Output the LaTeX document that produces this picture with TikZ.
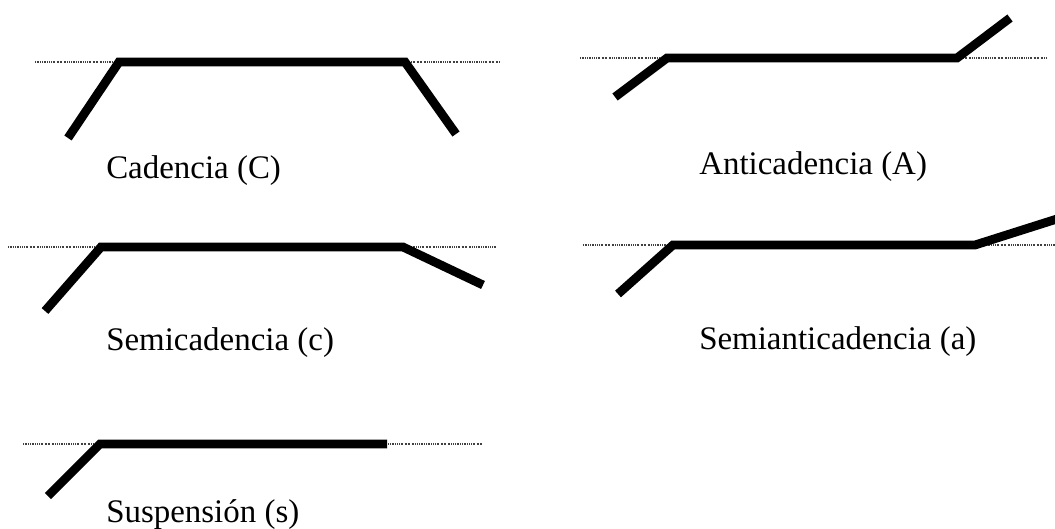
\documentclass[tikz,border=0pt]{standalone}
\usepackage{fontspec}
\setmainfont{Liberation Serif}
\begin{document}
\begin{tikzpicture}[x=0.75pt,y=-0.75pt,
  refline/.style={line width=0.8pt,black!75,dash pattern=on 0.7pt off 0.5pt on 0.7pt off 0.5pt on 0.7pt off 0.5pt on 0.7pt off 1.1pt},
  contour/.style={line width=6.6pt,line join=miter,line cap=butt,black},
  label/.style={anchor=base west,inner sep=0pt,font=\fontsize{24.7pt}{30pt}\selectfont}]
\useasboundingbox (0,0) rectangle (1055,528);
% Cadencia
\draw[refline] (35,62) -- (500,62);
\draw[contour] (68,138) -- (119,62) -- (405,62) -- (456,134);
\node[label] (lC) at (106,178) {Cadencia (C)};
% Anticadencia
\draw[refline] (580,58) -- (1047,58);
\draw[contour] (615,97) -- (667,58) -- (957,58) -- (1010,18);
\node[label] (lA) at (699,174) {Anticadencia (A)};
% Semicadencia
\draw[refline] (8,247) -- (497,247);
\draw[contour] (45,311) -- (101,247) -- (403,247) -- (483,285);
\node[label] (lc) at (106,350) {Semicadencia (c)};
% Semianticadencia
\draw[refline] (583,245) -- (1055,245);
\draw[contour] (618,294) -- (673,245) -- (975,245) -- (1060,218);
\node[label] (la) at (699,349) {Semianticadencia (a)};
% Suspension
\draw[refline] (23,444) -- (482,444);
\draw[contour] (48,496) -- (100,444) -- (387,444);
\node[label] (ls) at (106,522) {Suspensión (s)};
\end{tikzpicture}
\end{document}
